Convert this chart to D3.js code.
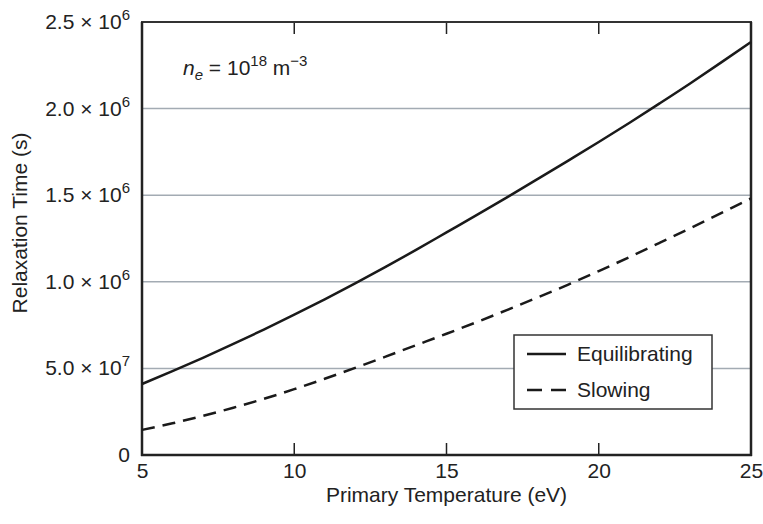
<!DOCTYPE html>
<html>
<head>
<meta charset="utf-8">
<script src="https://cdn.jsdelivr.net/npm/d3@7"></script>
<style>
  body { margin: 0; background: #fff; }
  text { font-family: "Liberation Sans", Arial, sans-serif; fill: #222; }
</style>
</head>
<body>
<svg id="chart" width="763" height="524"></svg>
<script>
// primary temperature (eV)
var temps = [5, 6, 7, 8, 9, 10, 11, 12, 13, 14, 15, 16, 17, 18, 19, 20, 21, 22, 23, 24, 25];
// relaxation times (s)
var equilibrating = [0.41e6, 0.484e6, 0.561e6, 0.641e6, 0.724e6, 0.81e6, 0.899e6, 0.991e6, 1.086e6, 1.184e6, 1.285e6,
  1.386e6, 1.489e6, 1.594e6, 1.70e6, 1.807e6, 1.917e6, 2.03e6, 2.145e6, 2.264e6, 2.385e6];
var slowing = [0.145e6, 0.183e6, 0.226e6, 0.273e6, 0.324e6, 0.38e6, 0.44e6, 0.503e6, 0.568e6, 0.634e6, 0.70e6,
  0.768e6, 0.838e6, 0.91e6, 0.984e6, 1.062e6, 1.142e6, 1.225e6, 1.309e6, 1.395e6, 1.482e6];

var xTicks = [5, 10, 15, 20, 25];
// tick labels as printed in the original (mantissa, exponent)
var yTickValues = [0, 0.5e6, 1.0e6, 1.5e6, 2.0e6, 2.5e6];
var yTickMant = ["0", "5.0", "1.0", "1.5", "2.0", "2.5"];
var yTickExp = ["", "7", "6", "6", "6", "6"];

var svg = d3.select("#chart");
var pLeft = 142, pRight = 751, pTop = 22, pBottom = 455;

var x = d3.scaleLinear().domain([5, 25]).range([pLeft, pRight]);
var y = d3.scaleLinear().domain([0, 2.5e6]).range([pBottom, pTop]);

// grid lines
svg.append("g")
  .selectAll("line")
  .data(yTickValues.slice(1, 5))
  .join("line")
    .attr("x1", pLeft).attr("x2", pRight)
    .attr("y1", d => y(d)).attr("y2", d => y(d))
    .attr("stroke", "#a3abb3")
    .attr("stroke-width", 1.5);

// x axis with inward ticks
var xAxis = svg.append("g")
  .attr("transform", "translate(0," + pBottom + ")")
  .call(d3.axisBottom(x).tickValues(xTicks).tickSize(0).tickPadding(8));
xAxis.select(".domain").remove();
xAxis.selectAll("text").style("font-size", "21px").attr("fill", "#222");

svg.append("g")
  .selectAll("line")
  .data(xTicks.slice(1, 4))
  .join("line")
    .attr("x1", d => x(d)).attr("x2", d => x(d))
    .attr("y1", pBottom).attr("y2", pBottom - 12)
    .attr("stroke", "#222").attr("stroke-width", 1.5);
svg.append("g")
  .selectAll("line")
  .data(xTicks.slice(1, 4))
  .join("line")
    .attr("x1", d => x(d)).attr("x2", d => x(d))
    .attr("y1", pTop).attr("y2", pTop + 12)
    .attr("stroke", "#222").attr("stroke-width", 1.5);

// y tick labels
var yl = svg.append("g").selectAll("text")
  .data(yTickValues)
  .join("text")
    .attr("x", 130)
    .attr("y", d => y(d) + 7)
    .attr("text-anchor", "end")
    .style("font-size", "21px");
yl.each(function(d, i) {
  var t = d3.select(this);
  if (yTickExp[i] === "") {
    t.text(yTickMant[i]);
  } else {
    t.append("tspan").text(yTickMant[i] + " \u00d7 10");
    t.append("tspan").attr("dy", -9).style("font-size", "15px").text(yTickExp[i]);
  }
});

// frame
svg.append("rect")
  .attr("x", pLeft).attr("y", pTop)
  .attr("width", pRight - pLeft).attr("height", pBottom - pTop)
  .attr("fill", "none").attr("stroke", "#333").attr("stroke-width", 2);
svg.append("line").attr("x1", pLeft).attr("x2", pLeft).attr("y1", pTop).attr("y2", pBottom + 1)
  .attr("stroke", "#222").attr("stroke-width", 2.5);
svg.append("line").attr("x1", pLeft - 1).attr("x2", pRight + 1).attr("y1", pBottom).attr("y2", pBottom)
  .attr("stroke", "#222").attr("stroke-width", 2.5);
svg.append("line").attr("x1", pRight).attr("x2", pRight).attr("y1", pTop).attr("y2", pBottom + 1)
  .attr("stroke", "#222").attr("stroke-width", 2.5);

// curves
var line = d3.line()
  .x((d, i) => x(temps[i]))
  .y(d => y(d))
  .curve(d3.curveMonotoneX);

svg.append("path")
  .attr("d", line(equilibrating))
  .attr("fill", "none").attr("stroke", "#1a1a1a").attr("stroke-width", 2.5);
svg.append("path")
  .attr("d", line(slowing))
  .attr("fill", "none").attr("stroke", "#1a1a1a").attr("stroke-width", 2.5)
  .attr("stroke-dasharray", "13,8");

// legend
var lg = svg.append("g");
lg.append("rect").attr("x", 514).attr("y", 335).attr("width", 198).attr("height", 74)
  .attr("fill", "#fff").attr("stroke", "#333").attr("stroke-width", 1.5);
lg.append("line").attr("x1", 527).attr("x2", 566).attr("y1", 354).attr("y2", 354)
  .attr("stroke", "#1a1a1a").attr("stroke-width", 2.5);
lg.append("line").attr("x1", 527).attr("x2", 566).attr("y1", 390).attr("y2", 390)
  .attr("stroke", "#1a1a1a").attr("stroke-width", 2.5).attr("stroke-dasharray", "15,9");
lg.append("text").attr("x", 577).attr("y", 361).style("font-size", "21px").text("Equilibrating");
lg.append("text").attr("x", 577).attr("y", 397).style("font-size", "21px").text("Slowing");

// annotation
var ann = svg.append("text").attr("x", 183).attr("y", 75).style("font-size", "21px");
ann.append("tspan").style("font-style", "italic").text("n");
ann.append("tspan").attr("dy", 5).style("font-style", "italic").style("font-size", "15px").text("e");
ann.append("tspan").attr("dy", -5).text(" = 10");
ann.append("tspan").attr("dy", -9).style("font-size", "15px").text("18");
ann.append("tspan").attr("dy", 9).text(" m");
ann.append("tspan").attr("dy", -9).style("font-size", "15px").text("\u22123");

// axis titles
svg.append("text")
  .attr("x", (pLeft + pRight) / 2).attr("y", 502)
  .attr("text-anchor", "middle").style("font-size", "21px")
  .text("Primary Temperature (eV)");
svg.append("text")
  .attr("transform", "translate(27,223) rotate(-90)")
  .attr("text-anchor", "middle").style("font-size", "21px")
  .text("Relaxation Time (s)");
</script>
</body>
</html>
